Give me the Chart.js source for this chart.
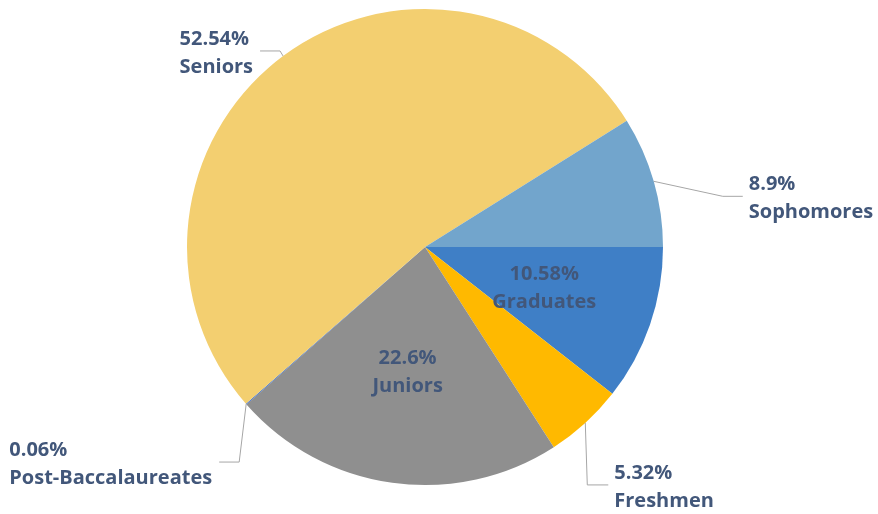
<!DOCTYPE html>
<html>
<head>
<meta charset="utf-8">
<script src="https://cdn.jsdelivr.net/npm/chart.js@4/dist/chart.umd.min.js"></script>
<style>
  html, body { margin: 0; padding: 0; background: #ffffff; }
  #wrap { width: 878px; height: 514px; position: relative; }
</style>
</head>
<body>
<div id="wrap"><canvas id="c" width="878" height="514"></canvas></div>
<script>
// ---- data ----
const categories = ["Graduates", "Freshmen", "Juniors", "Post-Baccalaureates", "Seniors", "Sophomores"];
const percentValues = [10.58, 5.32, 22.6, 0.06, 52.54, 8.9];
const sliceColors = ["#3F7FC6", "#FFB900", "#8F8F8F", "#4472C4", "#F3CF70", "#72A5CC"];

// ---- label layout (styling only) ----
const TEXT_COLOR = "#42577A";
const LINE_COLOR = "#A6A6A6";
const FONT = "bold 20px 'Open Sans'";
const labelLayout = {
  0: { inside: true },
  1: { elbow: [2, 62], run: 21 },
  2: { inside: true },
  3: { elbow: [-7, 58], run: -20 },
  4: { elbow: [-3, -5], run: -20 },
  5: { elbow: [69, 15], run: 20 }
};

const labelPlugin = {
  id: "pieLabels",
  afterDatasetsDraw(chart) {
    const ctx = chart.ctx;
    const meta = chart.getDatasetMeta(0);
    ctx.save();
    ctx.font = FONT;
    ctx.fillStyle = TEXT_COLOR;
    ctx.textBaseline = "middle";
    meta.data.forEach((arc, i) => {
      const p = arc.getProps(["x", "y", "startAngle", "endAngle", "outerRadius"], true);
      const mid = (p.startAngle + p.endAngle) / 2;
      const lines = [percentValues[i] + "%", categories[i]];
      const L = labelLayout[i];
      if (L.inside) {
        const r = p.outerRadius * 0.53;
        const cx = p.x + Math.cos(mid) * r;
        const cy = p.y + Math.sin(mid) * r;
        ctx.textAlign = "center";
        ctx.fillText(lines[0], cx, cy - 14);
        ctx.fillText(lines[1], cx, cy + 14);
      } else {
        const ex = p.x + Math.cos(mid) * p.outerRadius;
        const ey = p.y + Math.sin(mid) * p.outerRadius;
        const bx = ex + L.elbow[0], by = ey + L.elbow[1];
        const tx = bx + L.run;
        ctx.strokeStyle = LINE_COLOR;
        ctx.lineWidth = 1;
        ctx.beginPath();
        ctx.moveTo(ex, ey);
        ctx.lineTo(bx, by);
        ctx.lineTo(tx, by);
        ctx.stroke();
        const w = Math.max(ctx.measureText(lines[0]).width, ctx.measureText(lines[1]).width);
        const left = L.run < 0 ? tx - 7 - w : tx + 6;
        const cy = by + 2;
        ctx.textAlign = "left";
        ctx.fillText(lines[0], left, cy - 14);
        ctx.fillText(lines[1], left, cy + 14);
      }
    });
    ctx.restore();
  }
};

new Chart(document.getElementById("c"), {
  type: "pie",
  data: {
    labels: categories,
    datasets: [{
      data: percentValues,
      backgroundColor: sliceColors,
      borderWidth: 0
    }]
  },
  options: {
    responsive: false,
    animation: false,
    rotation: 90,
    layout: { padding: { left: 187, right: 215, top: 9, bottom: 29 } },
    plugins: { legend: { display: false }, tooltip: { enabled: false } }
  },
  plugins: [labelPlugin]
});
</script>
</body>
</html>
